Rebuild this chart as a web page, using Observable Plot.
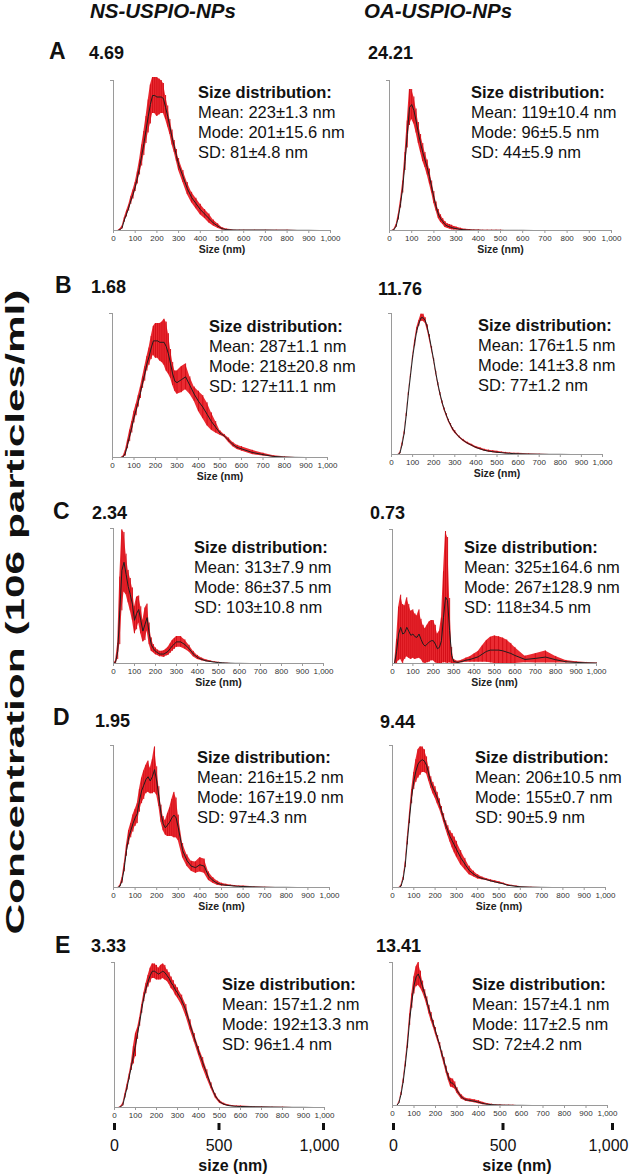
<!DOCTYPE html>
<html><head><meta charset="utf-8">
<script src="https://cdn.jsdelivr.net/npm/d3@7"></script>
<script src="https://cdn.jsdelivr.net/npm/@observablehq/plot@0.6"></script>
<style>
body{margin:0;background:#fff;}
#fig{position:relative;width:629px;height:1174px;overflow:hidden;font-family:"Liberation Sans",Arial,sans-serif;background:#fff;}
#fig svg{position:absolute;}
</style></head><body><div id="fig"></div>
<script>
// ---------- DATA ----------
// particle size grid (nm)
const sizes = [0,10,20,30,40,50,60,70,80,90,100,110,120,130,140,150,160,170,180,190,200,210,220,230,240,250,260,270,280,290,300,320,340,360,380,400,420,440,460,480,500,520,540,560,580,600,650,700,750,800,850,900,950,1000];
// concentration read as % of each panel's axis maximum (mean curve and half-width of red error band)
const nsA_mean = [0,0,0,0.5,2,7,11,15,20,24,29,35,42,50,58,67,76,84,90,90,89,89,89,88,82,76,69,62,56,50,44,36,28,22,18,14,11,8,5,3,1.2,0.6,0.4,0.3,0.3,0.3,0.3,0.3,0.2,0.2,0.1,0.1,0,0];
const nsA_err  = [0,0,0,0.5,1,1.5,2,2,2.5,3,3,4,5,7,8,9,11,13,12,12,13,12,11,10,8,7,5,5,4,4,4,4,4,3.5,3.5,3.5,3,3,2,1.5,0.8,0.4,0.2,0.1,0.1,0.1,0.1,0.1,0.1,0.1,0,0,0,0];
const oaA_mean = [0,0,0.5,3,9,18,29,46,64,82,84,80,73,65,58,52,47,42,36,29,22,16,11,8,6,4,3,2.5,2,1.5,1.3,0.7,0.4,0.3,0.2,0.2,0.1,0.1,0.1,0.1,0.1,0.1,0.1,0.1,0.1,0.1,0,0,0,0,0,0,0,0];
const oaA_err  = [0,0,0.3,1,2,3,4,6,9,12,10,9,8,7,6,6,5,5,5,4,4,3,3,2.5,2,2,1.5,1.5,1.5,1.2,1,0.8,0.5,0.3,0.2,0.2,0.1,0.1,0.1,0.1,0.1,0,0,0,0,0,0,0,0,0,0,0,0,0];
const nsB_mean = [0,0,0,0,0,0.5,3,9,15,21,28,33,39,45,52,58,65,70,76,81,81,81,80,80,80,77,72,65,58,53,52,54,56,50,44,39,35,30,25,21,17,15,12,9,7,6,3.5,2,0.7,0.3,0.1,0,0,0];
const nsB_err  = [0,0,0,0,0,0.5,2,3,4,4,4,4,4,4,4,5,5,6,8,10,12,12,13,14,16,17,14,10,8,7,8,9,9,6,5,7,8,8,6,4,1.5,1,1.5,1.5,1.5,1.5,1.5,1,0.5,0.2,0,0,0,0];
const oaB_mean = [0,0,0,0,1,7,15,28,43,56,69,79,88,93,97,97,95,90,83,75,67,58,50,43,37,32,28,24,21,18,16,12.5,10,8,6.5,5,4,3,2.4,2,1.6,1.3,1,0.8,0.6,0.5,0.3,0.2,0.1,0.1,0,0,0,0];
const oaB_err  = [0,0,0,0,0.5,1,1,1,1,1,1,2,2,2,2.5,2.5,2,2,2,1.5,1,1,1,1,1,1,1,1,1,1,1,0.7,0.7,0.7,0.7,0.7,0.7,0.7,0.7,0.7,0.7,0.5,0.5,0.3,0.3,0.3,0.2,0.1,0,0,0,0,0,0];
const nsC_mean = [0,1,9,39,69,75,66,57,51,44,32,37,40,32,24,29,34,22,14,11,9,8,7,7,7,8,9,11,13,14.5,16,16,14,11,7,4.5,3,2,1.5,1,0.7,0.5,0.3,0.2,0.1,0.1,0,0,0,0,0,0,0,0];
const nsC_err  = [0,1,6,25,30,22,15,12,12,12,10,12,10,10,8,12,10,8,5,3,2.5,2,2,2,2.5,2.5,3,3.5,4,4,4,4,3.5,2.5,2,1.5,1,0.7,0.5,0.3,0.2,0.1,0.1,0,0,0,0,0,0,0,0,0,0,0];
const oaC_mean = [0,0,9,22,27,22,23,27,24,21,22,20,19.5,22,18,14.5,13,14.5,16,17,17,14.5,11,12,17,34.5,49.5,47,24.5,6,1.5,0.8,1.5,2.5,3,4,5,7,9,10,10,10,9.5,8.5,7.5,6,3,3.8,4.8,2.8,1.3,0.8,0.5,0.3];
const oaC_err  = [0,0,9,20,24,22,20,22,20,18,18,17,16,18,15,14,13,14,15,15,15,14,11,12,17,34,49,47,24,6,1.5,0.8,1,1.5,2,3,4,6,8,9.5,10.5,10,9.5,9,7.5,6,2.5,3.5,4.5,2.5,1,0.5,0.3,0.2];
const nsD_mean = [0,0,0,1,5,14,26,35,40,45,49,52,61,68,72,76,78,75,78,83,75,64,52,45,42,44,46,49,51,49,42,26,19,15,14,16,15,8,5,3,2,1.6,1.3,1,0.8,0.7,0.4,0.2,0.1,0.1,0,0,0,0];
const nsD_err  = [0,0,0,0.5,2,3,4,5,5,6,6,7,8,9,10,10,11,9,12,16,10,7,6,5,5,8,10,13,16,14,9,5,4,3.5,4,5,5,3,2,1.5,1,0.7,0.5,0.4,0.3,0.3,0.2,0.1,0,0,0,0,0,0];
const oaD_mean = [0,0,0,0,1,6,16,33,49,64,75,82,87,89,90,89,86,80,74,70,67,63,59,54,49,44,40,36,33,30,27,21,16.5,12,9.5,7.5,6.4,5.6,4.7,4,3.3,2.6,1.6,1.2,0.8,0.5,0.2,0.1,0,0,0,0,0,0];
const oaD_err  = [0,0,0,0,0.5,1,2,3,4,5,6,8,10,10,9,8,6,5,4,4,4,4,3.5,3,3,3,3.5,4,5,5.5,5.5,5,4,3,2,1.5,1,0.7,0.7,0.7,0.7,0.5,0.5,0.3,0.3,0.2,0.1,0,0,0,0,0,0,0];
const nsE_mean = [0,0,0,0.5,2,8,14,21,28,36,43,51,59,68,76,82,87,91,94,94,93,92,93,94,93,91,89,86,84,81,79,74,67,57,48,39,31,23,15,8,4,2.3,1.4,1,0.8,0.7,0.5,0.4,0.3,0.2,0.1,0.1,0,0];
const nsE_err  = [0,0,0,0.3,1,1.5,2,2,2.5,6,8,4,3,3,3,3.5,4,5,5,5,5,4,5,5,5,4,4,4,3.5,3.5,3.5,3.5,4,3.5,3,3,3.5,3,2,1.5,1,0.7,0.5,0.3,0.3,0.3,0.2,0.2,0.1,0.1,0,0,0,0];
const oaE_mean = [0,0,0,2,8,17,29,43,60,73,84,90,92,88,83,78,73,67,62,57,52,47,42,36,31,25,20,16,15.5,14,10.5,6,4,3.5,3,2.3,1.4,0.9,0.6,0.4,0.3,0.2,0.2,0.1,0.1,0.1,0,0,0,0,0,0,0,0];
const oaE_err  = [0,0,0,0.5,1,1.5,2,3,4,5,6,7,8,6,4,3,3,3,3,2.5,2.5,2,2,2,2.5,2.5,2.5,3,3,2.5,2,1.5,1,1,1,1,0.8,0.5,0.3,0.2,0.2,0.1,0.1,0.1,0,0,0,0,0,0,0,0,0,0];

const rowLetters = ["A","B","C","D","E"];
const columnTitles = ["NS-USPIO-NPs","OA-USPIO-NPs"];
const nsMax = [4.69,1.68,2.34,1.95,3.33];
const oaMax = [24.21,11.76,0.73,9.44,13.41];
const nsMean = [nsA_mean,nsB_mean,nsC_mean,nsD_mean,nsE_mean];
const nsErr  = [nsA_err,nsB_err,nsC_err,nsD_err,nsE_err];
const oaMean = [oaA_mean,oaB_mean,oaC_mean,oaD_mean,oaE_mean];
const oaErr  = [oaA_err,oaB_err,oaC_err,oaD_err,oaE_err];
const nsStats = [["223±1.3","201±15.6","81±4.8"],["287±1.1","218±20.8","127±11.1"],["313±7.9","86±37.5","103±10.8"],["216±15.2","167±19.0","97±4.3"],["157±1.2","192±13.3","96±1.4"]];
const oaStats = [["119±10.4","96±5.5","44±5.9"],["176±1.5","141±3.8","77±1.2"],["325±164.6","267±128.9","118±34.5"],["206±10.5","155±0.7","90±5.9"],["157±4.1","117±2.5","72±4.2"]];
const smallTicks = [0,100,200,300,400,500,600,700,800,900,1000];
const bigTicks = [0,500,1000];
const yTitle = "Concentration (106 particles/ml)";
const smallXLabel = "Size (nm)";
const bigXLabel = "size (nm)";

// ---------- LAYOUT ----------
const FONT = "'Liberation Sans', Arial, Helvetica, sans-serif";
const geomNS = [
  {x0:113,w:217,yt:80,yb:230,tx:198,ty:98,lx:49,ly:59,vx:89,vy:59},
  {x0:112,w:215,yt:313,yb:457,tx:209,ty:332,lx:55,ly:293,vx:91,vy:293},
  {x0:113,w:210,yt:528,yb:663,tx:194,ty:553,lx:53,ly:519,vx:92,vy:519},
  {x0:113,w:216,yt:745,yb:887,tx:197,ty:763,lx:53,ly:725,vx:95,vy:727},
  {x0:114,w:210,yt:962,yb:1107,tx:222,ty:990,lx:55,ly:953,vx:91,vy:952}
];
const geomOA = [
  {x0:389,w:222,yt:80,yb:230,tx:471,ty:98,vx:368,vy:59},
  {x0:391,w:211,yt:313,yb:454,tx:478,ty:331,vx:378,vy:295},
  {x0:392,w:204,yt:529,yb:663,tx:464,ty:553,vx:370,vy:519},
  {x0:392,w:213,yt:745,yb:887,tx:475,ty:763,vx:380,vy:728},
  {x0:392,w:215,yt:962,yb:1105,tx:472,ty:990,vx:376,vy:952}
];
const fig = document.getElementById("fig");
const AX = "#9a9a9a";

function panel(mean, err, ymax, g, withLabel) {
  const rows = sizes.map((s, i) => ({
    size: s,
    mean: mean[i] * ymax / 100,
    lo: Math.max(0, mean[i] - err[i]) * ymax / 100,
    hi: (mean[i] + err[i]) * ymax / 100
  }));
  const mL = 10, mR = 22, mT = 6, mB = 30;
  const marks = [
    Plot.areaY(rows, {x: "size", y1: "lo", y2: "hi", fill: "#e8141c", fillOpacity: 0.9}),
    Plot.ruleX(rows, {x: "size", y1: "lo", y2: "hi", stroke: "#d40f18", strokeWidth: 1}),
    Plot.lineY(rows, {x: "size", y: "mean", stroke: "#1e1e1e", strokeWidth: 1}),
    Plot.ruleY([0], {stroke: AX}),
    Plot.ruleX([0], {stroke: AX}),
    Plot.axisY({ticks: [ymax], tickSize: 3, tickFormat: () => "", stroke: AX, label: null}),
    Plot.axisX({ticks: smallTicks, tickSize: 3, tickPadding: 2, tickFormat: d3.format(","), fontSize: 8, fill: "#333", stroke: AX, label: null})
  ];
  if (withLabel) marks.push(Plot.text([smallXLabel], {frameAnchor: "bottom", lineAnchor: "bottom", dy: 22, fontSize: 10.5, fontWeight: "bold", fill: "#222"}));
  const p = Plot.plot({
    width: g.w + mL + mR, height: g.yb - g.yt + mT + mB,
    marginLeft: mL, marginRight: mR, marginTop: mT, marginBottom: mB,
    x: {domain: [0, 1000]},
    y: {domain: [0, ymax]},
    style: {background: "none", overflow: "visible", fontFamily: FONT},
    marks
  });
  p.style.left = (g.x0 - mL) + "px";
  p.style.top = (g.yt - mT) + "px";
  fig.appendChild(p);
}

function bigAxis(x0, w, yAxis) {
  const mL = 20, mR = 30, mT = 0, mB = 52;
  const first = bigTicks.slice(0, -1), last = bigTicks.slice(-1);
  const p = Plot.plot({
    width: w + mL + mR, height: mT + mB + 1,
    marginLeft: mL, marginRight: mR, marginTop: mT, marginBottom: mB,
    x: {domain: [0, 1000]},
    style: {background: "none", overflow: "visible", fontFamily: FONT},
    marks: [
      Plot.axisX({ticks: bigTicks, tickSize: 7, strokeWidth: 3, tickFormat: () => "", stroke: "#111", label: null}),
      Plot.text(first, {x: d => d, frameAnchor: "bottom", lineAnchor: "bottom", dy: 27, fontSize: 16, fill: "#111", text: d3.format(",")}),
      Plot.text(last, {x: d => d, frameAnchor: "bottom", lineAnchor: "bottom", textAnchor: "end", dx: 16, dy: 27, fontSize: 16, fill: "#111", text: d3.format(",")}),
      Plot.text([bigXLabel], {frameAnchor: "bottom", lineAnchor: "bottom", dx: 14, dy: 47, fontSize: 16, fontWeight: "bold", fill: "#111"})
    ]
  });
  p.style.left = (x0 - mL) + "px";
  p.style.top = (yAxis - 1) + "px";
  fig.appendChild(p);
}

for (let r = 0; r < 5; r++) {
  panel(nsMean[r], nsErr[r], nsMax[r], geomNS[r], r < 4);
  panel(oaMean[r], oaErr[r], oaMax[r], geomOA[r], r < 4);
}
bigAxis(114, 209, 1123);
bigAxis(393, 219, 1123);

// ---------- TEXT OVERLAY ----------
const svg = d3.select(fig).append("svg")
  .attr("width", 629).attr("height", 1174)
  .style("left", "0px").style("top", "0px").style("pointer-events", "none")
  .attr("font-family", FONT).attr("fill", "#111");

svg.append("text").attr("x", 90).attr("y", 18).attr("font-size", 20.5).attr("font-weight", "bold").attr("font-style", "italic").text(columnTitles[0]);
svg.append("text").attr("x", 364).attr("y", 18).attr("font-size", 20.5).attr("font-weight", "bold").attr("font-style", "italic").text(columnTitles[1]);

svg.append("text").attr("transform", "translate(24,612) rotate(-90)").attr("text-anchor", "middle")
  .attr("font-size", 26).attr("font-weight", "bold").attr("textLength", 645).attr("lengthAdjust", "spacingAndGlyphs").text(yTitle);

function statBlock(x, y, st) {
  const lines = [["Size distribution:", true], ["Mean: " + st[0] + " nm", false], ["Mode: " + st[1] + " nm", false], ["SD: " + st[2] + " nm", false]];
  lines.forEach(([t, b], i) => {
    svg.append("text").attr("x", x).attr("y", y + i * 20).attr("font-size", 16.5).attr("font-weight", b ? "bold" : "normal").text(t);
  });
}

for (let r = 0; r < 5; r++) {
  const gN = geomNS[r], gO = geomOA[r];
  svg.append("text").attr("x", gN.lx).attr("y", gN.ly).attr("font-size", 23).attr("font-weight", "bold").text(rowLetters[r]);
  svg.append("text").attr("x", gN.vx).attr("y", gN.vy).attr("font-size", 18).attr("font-weight", "bold").text(nsMax[r].toFixed(2));
  svg.append("text").attr("x", gO.vx).attr("y", gO.vy).attr("font-size", 18).attr("font-weight", "bold").text(oaMax[r].toFixed(2));
  statBlock(gN.tx, gN.ty, nsStats[r]);
  statBlock(gO.tx, gO.ty, oaStats[r]);
}
</script></body></html>
